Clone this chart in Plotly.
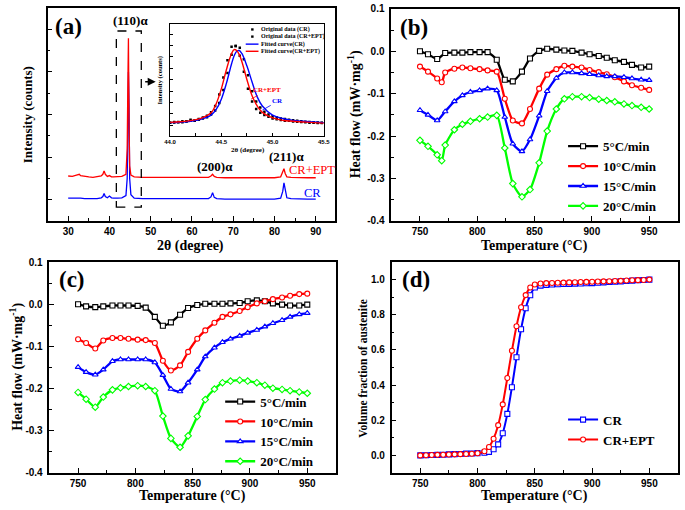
import plotly.graph_objects as go

# ---------------- data ----------------
# (a) XRD patterns (arbitrary intensity units, CR+EPT offset upward)
two_theta = [30, 31, 32, 32.7, 33, 34, 35, 36, 37, 38, 38.4, 38.7, 39.0, 39.5, 40.0, 40.5, 41, 42, 43,
             44.0, 44.3, 44.45, 44.6, 44.75, 44.9, 45.2, 46, 48, 50, 52, 55, 58, 60, 62, 64, 64.6, 65.0,
             65.4, 66, 68, 70, 72, 75, 78, 80, 81.5, 82.0, 82.3, 82.6, 83.0, 84, 86, 88, 90]
xrd_cr = [0.04, 0.04, 0.05, 0.05, 0.04, 0.03, 0.03, 0.02, 0.03, 0.05, 0.08, 0.15, 0.08, 0.05, 0.09, 0.05,
          0.04, 0.04, 0.05, 0.10, 0.50, 1.60, 3.00, 2.20, 0.50, 0.12, 0.04, 0.03, 0.03, 0.02, 0.02, 0.02,
          0.02, 0.02, 0.03, 0.07, 0.17, 0.06, 0.03, 0.02, 0.02, 0.02, 0.02, 0.02, 0.02, 0.04, 0.20, 0.40,
          0.20, 0.05, 0.03, 0.02, 0.02, 0.02]
xrd_cr_ept = [0.56, 0.55, 0.58, 0.60, 0.57, 0.55, 0.54, 0.53, 0.54, 0.56, 0.60, 0.68, 0.60, 0.55, 0.57, 0.54,
              0.54, 0.55, 0.55, 0.60, 1.20, 2.60, 3.79, 1.80, 0.80, 0.58, 0.54, 0.53, 0.53, 0.53, 0.52, 0.52,
              0.52, 0.52, 0.53, 0.56, 0.60, 0.55, 0.53, 0.52, 0.52, 0.52, 0.52, 0.52, 0.52, 0.54, 0.65, 0.73,
              0.62, 0.54, 0.53, 0.52, 0.52, 0.52]

# (a) inset: (110) peak
inset_dot_x = [44.00, 44.04, 44.08, 44.12, 44.16, 44.20, 44.24, 44.28, 44.32, 44.36, 44.40, 44.44, 44.48,
               44.52, 44.56, 44.60, 44.64, 44.68, 44.72, 44.76, 44.80, 44.84, 44.88, 44.92, 44.96, 45.00,
               45.04, 45.08, 45.12, 45.16, 45.20, 45.24, 45.28, 45.32, 45.36, 45.40, 45.44, 45.48]
inset_dot_cr = [0.12, 0.13, 0.15, 0.14, 0.18, 0.20, 0.20, 0.25, 0.30, 0.36, 0.48, 0.65, 0.98, 1.55, 2.30,
                3.10, 3.48, 3.40, 2.90, 2.20, 1.50, 1.05, 0.78, 0.60, 0.48, 0.40, 0.35, 0.30, 0.28, 0.25,
                0.22, 0.20, 0.18, 0.16, 0.15, 0.14, 0.13, 0.12]
inset_dot_cr_ept = [0.12, 0.15, 0.14, 0.18, 0.17, 0.25, 0.22, 0.28, 0.35, 0.42, 0.58, 0.85, 1.35, 2.10, 2.85,
                    3.45, 3.48, 3.05, 2.35, 1.60, 1.05, 0.72, 0.55, 0.45, 0.38, 0.30, 0.27, 0.24, 0.20, 0.20,
                    0.17, 0.16, 0.15, 0.14, 0.12, 0.12, 0.10, 0.10]
inset_fit_x = [44.0, 44.1, 44.2, 44.3, 44.4, 44.45, 44.5, 44.55, 44.6, 44.625, 44.65, 44.675, 44.7, 44.75,
               44.8, 44.85, 44.9, 45.0, 45.1, 45.2, 45.3, 45.4, 45.5]
inset_fit_cr = [0.12, 0.14, 0.18, 0.27, 0.45, 0.70, 1.15, 1.85, 2.70, 3.05, 3.25, 3.28, 3.15, 2.60, 1.90,
                1.25, 0.85, 0.45, 0.30, 0.22, 0.18, 0.15, 0.12]
inset_fit_cr_ept = [0.13, 0.16, 0.21, 0.31, 0.55, 0.95, 1.60, 2.45, 3.15, 3.32, 3.28, 3.10, 2.80, 2.00, 1.30,
                    0.85, 0.57, 0.33, 0.22, 0.18, 0.15, 0.12, 0.10]
inset_names = ["Original data (CR)", "Original data (CR+EPT)", "Fitted curve(CR)", "Fitted curve(CR+EPT)"]

# (b), (c) DSC heat flow (mW/mg)
rate_labels = ["5°C/min", "10°C/min", "15°C/min", "20°C/min"]
dsc_temp = [750, 757, 765, 772, 780, 787, 794, 802, 809, 817, 824, 831, 839, 846, 854, 861, 869, 876,
            883, 891, 898, 906, 913, 920, 928, 935, 943, 950]
dsc_temp_dip = [750, 757, 765, 769, 772, 780, 787, 794, 802, 809, 817, 824, 831, 839, 846, 854, 861, 869,
                876, 883, 891, 898, 906, 913, 920, 928, 935, 943, 950]

b_5 = [0.0, -0.007, -0.018, -0.004, -0.003, -0.003, -0.002, -0.002, -0.002, -0.020, -0.067, -0.071, -0.048,
       -0.017, 0.001, 0.006, 0.004, 0.002, 0.001, -0.003, -0.007, -0.011, -0.015, -0.021, -0.025, -0.032,
       -0.038, -0.036]
b_10 = [-0.036, -0.048, -0.064, -0.073, -0.050, -0.041, -0.038, -0.040, -0.042, -0.045, -0.048, -0.112,
        -0.163, -0.170, -0.136, -0.088, -0.055, -0.042, -0.034, -0.036, -0.038, -0.044, -0.049, -0.054,
        -0.061, -0.071, -0.080, -0.086, -0.091]
b_15 = [-0.139, -0.150, -0.163, -0.142, -0.118, -0.104, -0.096, -0.092, -0.088, -0.092, -0.155, -0.218,
        -0.236, -0.208, -0.152, -0.094, -0.063, -0.050, -0.050, -0.052, -0.054, -0.057, -0.059, -0.059,
        -0.061, -0.064, -0.067, -0.068]
b_20 = [-0.210, -0.224, -0.244, -0.258, -0.221, -0.185, -0.172, -0.165, -0.159, -0.155, -0.151, -0.228,
        -0.312, -0.343, -0.326, -0.263, -0.188, -0.136, -0.112, -0.107, -0.107, -0.109, -0.113, -0.116,
        -0.119, -0.124, -0.128, -0.132, -0.136]

c_5 = [0.0, -0.005, -0.007, -0.005, -0.003, -0.003, -0.003, -0.004, -0.008, -0.030, -0.051, -0.043, -0.025,
       -0.009, -0.002, 0.001, 0.001, 0.001, 0.002, 0.003, 0.007, 0.009, 0.007, 0.002, -0.001, -0.003,
       -0.003, -0.001]
c_10 = [-0.083, -0.092, -0.105, -0.086, -0.080, -0.080, -0.082, -0.084, -0.085, -0.092, -0.134, -0.157,
        -0.145, -0.113, -0.082, -0.062, -0.044, -0.030, -0.024, -0.016, -0.007, 0.002, 0.007, 0.012, 0.016,
        0.020, 0.024, 0.025]
c_15 = [-0.149, -0.161, -0.167, -0.155, -0.135, -0.131, -0.131, -0.131, -0.131, -0.138, -0.168, -0.201,
        -0.207, -0.186, -0.155, -0.124, -0.103, -0.090, -0.082, -0.075, -0.068, -0.061, -0.053, -0.045,
        -0.038, -0.030, -0.024, -0.021]
c_20 = [-0.209, -0.225, -0.244, -0.220, -0.203, -0.198, -0.195, -0.193, -0.195, -0.205, -0.265, -0.318,
        -0.339, -0.312, -0.266, -0.226, -0.201, -0.186, -0.182, -0.180, -0.182, -0.186, -0.192, -0.199,
        -0.202, -0.205, -0.208, -0.211]

# (d) volume fraction of austenite
d_temp = [750, 755, 760, 765, 770, 775, 780, 785, 790, 795, 800, 806, 810, 814, 818, 822, 826, 830, 834,
          838, 842, 846, 850, 855, 860, 865, 870, 875, 880, 885, 890, 895, 900, 905, 910, 915, 920, 925,
          930, 935, 940, 945, 950]
d_cr = [0.000, 0.001, 0.002, 0.003, 0.004, 0.006, 0.007, 0.008, 0.010, 0.011, 0.013, 0.015, 0.020, 0.035,
        0.063, 0.126, 0.236, 0.388, 0.558, 0.718, 0.837, 0.911, 0.955, 0.966, 0.970, 0.972, 0.974, 0.975,
        0.976, 0.977, 0.978, 0.979, 0.980, 0.982, 0.984, 0.986, 0.988, 0.990, 0.992, 0.994, 0.996, 0.998,
        1.000]
d_cr_ept = [0.000, 0.001, 0.002, 0.003, 0.004, 0.005, 0.006, 0.007, 0.008, 0.009, 0.012, 0.024, 0.048,
            0.095, 0.172, 0.290, 0.440, 0.595, 0.735, 0.843, 0.912, 0.955, 0.972, 0.978, 0.980, 0.981,
            0.982, 0.983, 0.984, 0.985, 0.986, 0.987, 0.988, 0.989, 0.990, 0.991, 0.992, 0.993, 0.995,
            0.996, 0.997, 0.998, 1.000]
sample_names = ["CR", "CR+EPT"]

hf_tickvals = [0.1, 0.0, -0.1, -0.2, -0.3, -0.4]
hf_ticktext = ["0.1", "0.0", "-0.1", "-0.2", "-0.3", "-0.4"]

# ---------------- styling ----------------
W, H = 685, 510
SERIF = "Liberation Serif"
SANS = "Liberation Sans"
RED, BLUE, GREEN, BLACK = "#ff0000", "#0000ff", "#00ff00", "#000000"


def dx(a, b):
    return [a / W, b / W]


def dy(top, bottom):
    return [1 - bottom / H, 1 - top / H]


def ax(rng, dom, dtick, tick0, minor, labels=True, fsize=10, standoff=0, **kw):
    d = dict(range=rng, domain=dom, dtick=dtick, tick0=tick0, ticks="inside", ticklen=5, tickwidth=1.3,
             tickcolor="black", showline=True, linewidth=1.6, linecolor="black", mirror=True,
             showgrid=False, zeroline=False, showticklabels=labels, ticklabelstandoff=standoff,
             tickfont=dict(family=SANS, size=fsize, color="black", weight="bold"),
             minor=dict(tickmode="linear", tick0=0 if tick0 is None else tick0, dtick=minor, ticks="inside",
                        ticklen=3, tickwidth=1, tickcolor="black", showgrid=False))
    d.update(kw)
    return d


fig = go.Figure()

# (a) main XRD
fig.add_trace(go.Scatter(x=two_theta, y=xrd_cr, mode="lines", line=dict(color=BLUE, width=1.3),
                         showlegend=False, xaxis="x", yaxis="y"))
fig.add_trace(go.Scatter(x=two_theta, y=xrd_cr_ept, mode="lines", line=dict(color=RED, width=1.3),
                         showlegend=False, xaxis="x", yaxis="y"))

# inset
fig.add_trace(go.Scatter(x=inset_dot_x, y=inset_dot_cr, mode="markers",
                         marker=dict(symbol="square", size=2.5, color=BLACK), showlegend=False,
                         xaxis="x5", yaxis="y5"))
fig.add_trace(go.Scatter(x=inset_dot_x, y=inset_dot_cr_ept, mode="markers",
                         marker=dict(symbol="square", size=2.5, color=BLACK), showlegend=False,
                         xaxis="x5", yaxis="y5"))
fig.add_trace(go.Scatter(x=inset_fit_x, y=inset_fit_cr, mode="lines", line=dict(color=BLUE, width=1.4, shape="spline"),
                         showlegend=False, xaxis="x5", yaxis="y5"))
fig.add_trace(go.Scatter(x=inset_fit_x, y=inset_fit_cr_ept, mode="lines",
                         line=dict(color=RED, width=1.4, shape="spline"), showlegend=False,
                         xaxis="x5", yaxis="y5"))

# (b), (c)
colors = [BLACK, RED, BLUE, GREEN]
symbols = ["square", "circle", "triangle-up", "diamond"]
b_series = [(dsc_temp, b_5), (dsc_temp_dip, b_10), (dsc_temp, b_15), (dsc_temp_dip, b_20)]
c_series = [(dsc_temp, c_5), (dsc_temp, c_10), (dsc_temp, c_15), (dsc_temp, c_20)]
for series, xa, ya, lg in [(b_series, "x2", "y2", "legend"), (c_series, "x3", "y3", "legend2")]:
    for (t, v), col, sym, name in zip(series, colors, symbols, rate_labels):
        fig.add_trace(go.Scatter(
            x=t, y=v, mode="lines+markers", name=name, legend=lg,
            line=dict(color=col, width=2.3, shape="spline", smoothing=0.6),
            marker=dict(symbol=sym, size=5, color="white", line=dict(color=col, width=1.1)),
            xaxis=xa, yaxis=ya))

# (d)
for vals, col, sym, name in [(d_cr, BLUE, "square", sample_names[0]), (d_cr_ept, RED, "circle", sample_names[1])]:
    fig.add_trace(go.Scatter(
        x=d_temp, y=vals, mode="lines+markers", name=name, legend="legend3",
        line=dict(color=col, width=2, shape="spline", smoothing=0.5),
        marker=dict(symbol=sym, size=5, color="white", line=dict(color=col, width=1.1)),
        xaxis="x4", yaxis="y4"))

lg_common = dict(xanchor="left", yanchor="middle", bgcolor="rgba(0,0,0,0)", borderwidth=0,
                 font=dict(family=SERIF, size=13, color="black", weight="bold"), itemwidth=30,
                 tracegroupgap=0)

fig.update_layout(
    width=W, height=H, margin=dict(l=0, r=0, t=0, b=0), paper_bgcolor="white", plot_bgcolor="white",
    xaxis=ax([25, 94.7], dx(42.3, 335), 10, 30, 5),
    yaxis=ax([-0.5, 4.5], dy(3, 221), 1, 0, 0.5, labels=False),
    xaxis2=ax([725, 975], dx(392.2, 683.8), 50, 750, 25, anchor="y2"),
    yaxis2=ax([-0.4, 0.1], dy(4, 220.7), None, None, 0.05, anchor="x2", tickmode="array",
              tickvals=hf_tickvals, ticktext=hf_ticktext, standoff=3),
    xaxis3=ax([725, 975], dx(44.2, 335.8), 50, 750, 25, anchor="y3"),
    yaxis3=ax([-0.4, 0.1], dy(262.7, 478.3), None, None, 0.05, anchor="x3", tickmode="array",
              tickvals=hf_tickvals, ticktext=hf_ticktext, standoff=3),
    xaxis4=ax([725, 975], dx(392.5, 684), 50, 750, 25, anchor="y4"),
    yaxis4=ax([-0.1, 1.1], dy(262.7, 478.3), 0.2, 0, 0.1, anchor="x4", tickformat=".1f", standoff=3),
    xaxis5=ax([44.0, 45.5], dx(167, 323.5), 0.5, 44.0, 0.25, anchor="y5", fsize=6, tickformat=".1f",
              linewidth=1, ticklen=3, standoff=0),
    yaxis5=ax([-0.47, 4.46], dy(19, 134), 1, 0, 0.5, anchor="x5", labels=False, linewidth=1, ticklen=3),
    legend=dict(x=567 / W, y=1 - 175 / H, **lg_common),
    legend2=dict(x=218 / W, y=1 - 436 / H, **lg_common),
    legend3=dict(x=567 / W, y=1 - 434 / H, **lg_common),
)

ann = []


def paper_text(text, px, py, size=14, angle=0, color="black", family=SERIF, bold=True):
    ann.append(dict(text=text, x=px / W, y=1 - py / H, xref="paper", yref="paper", showarrow=False,
                    xanchor="center", yanchor="middle", textangle=angle,
                    font=dict(family=family, size=size, color=color, weight="bold" if bold else "normal")))


# axis titles
paper_text("2θ (degree)", 188, 246)
paper_text("Intensity (counts)", 22, 112, size=13, angle=-90)
paper_text("Temperature (°C)", 538, 246)
paper_text("Heat flow (mW·mg<sup>-1</sup>)", 355, 112, angle=-90)
paper_text("Temperature (°C)", 190, 502)
paper_text("Heat flow (mW·mg<sup>-1</sup>)", 10, 370, angle=-90)
paper_text("Temperature (°C)", 538, 502)
paper_text("Volume fraction of austenite", 363, 371, size=11.5, angle=-90)
paper_text("2θ (degree)", 246, 148, size=7)
paper_text("Intensity (counts)", 157, 77, size=6.5, angle=-90)
# panel letters
paper_text("(a)", 64, 22, size=23)
paper_text("(b)", 415, 23, size=23)
paper_text("(c)", 67, 281, size=23)
paper_text("(d)", 417, 281, size=23)


def data_text(text, x, y, xa, ya, size=13, color="black", bold=True):
    ann.append(dict(text=text, x=x, y=y, xref=xa, yref=ya, showarrow=False, xanchor="center",
                    yanchor="middle",
                    font=dict(family=SERIF, size=size, color=color, weight="bold" if bold else "normal")))


data_text("(110)α", 45.0, 4.21, "x", "y")
data_text("(200)α", 65.7, 0.78, "x", "y")
data_text("(211)α", 82.9, 1.02, "x", "y")
data_text("CR+EPT", 89.0, 0.70, "x", "y", size=12.5, color=RED, bold=False)
data_text("CR", 89.2, 0.17, "x", "y", size=12.5, color=BLUE, bold=False)

# arrow from the dashed box to the inset
ann.append(dict(x=51.2, y=2.77, ax=48.3, ay=2.77, xref="x", yref="y", axref="x", ayref="y", text="",
                showarrow=True, arrowhead=2, arrowsize=1, arrowwidth=1.6, arrowcolor="black"))
# inset pointer labels
ann.append(dict(x=44.79, y=1.15, ax=44.95, ay=1.55, xref="x5", yref="y5", axref="x5", ayref="y5",
                text="CR+EPT", showarrow=True, arrowhead=0, arrowwidth=0.8, arrowcolor=RED,
                font=dict(family=SERIF, size=7, color=RED, weight="bold"), standoff=0, startstandoff=0))
ann.append(dict(x=44.9, y=0.67, ax=45.05, ay=1.05, xref="x5", yref="y5", axref="x5", ayref="y5",
                text="CR", showarrow=True, arrowhead=0, arrowwidth=0.8, arrowcolor=BLUE,
                font=dict(family=SERIF, size=7, color=BLUE, weight="bold"), standoff=0, startstandoff=0))

shapes = [dict(type="rect", xref="x", yref="y", x0=41.67, x1=47.72, y0=-0.17, y1=3.96,
               line=dict(color="black", width=1.3, dash="dash"))]

# inset legend (manual, compact)
inset_dom_x = (167, 323.5)
inset_dom_y = (19, 134)


def fx(px):
    return (px - inset_dom_x[0]) / (inset_dom_x[1] - inset_dom_x[0])


def fy(py):
    return (inset_dom_y[1] - py) / (inset_dom_y[1] - inset_dom_y[0])


leg_rows = [25, 32.3, 40, 47.3]
for i, (name, py) in enumerate(zip(inset_names, leg_rows)):
    if i < 2:
        shapes.append(dict(type="rect", xref="x5 domain", yref="y5 domain", x0=fx(249.5), x1=fx(252),
                           y0=fy(py + 1.2), y1=fy(py - 1.2), fillcolor="black", line=dict(width=0)))
    else:
        shapes.append(dict(type="line", xref="x5 domain", yref="y5 domain", x0=fx(244), x1=fx(257),
                           y0=fy(py), y1=fy(py), line=dict(color=BLUE if i == 2 else RED, width=1.4)))
    ann.append(dict(text=name, x=fx(258), y=fy(py), xref="x5 domain", yref="y5 domain", showarrow=False,
                    xanchor="left", yanchor="middle",
                    font=dict(family=SERIF, size=6, color="black", weight="bold")))

fig.update_layout(annotations=ann, shapes=shapes)
fig.write_html("out.html", config={"displayModeBar": False},
               post_script="document.documentElement.style.margin='0';document.body.style.margin='0';"
                           "document.body.style.padding='0';document.body.style.overflow='hidden';")
